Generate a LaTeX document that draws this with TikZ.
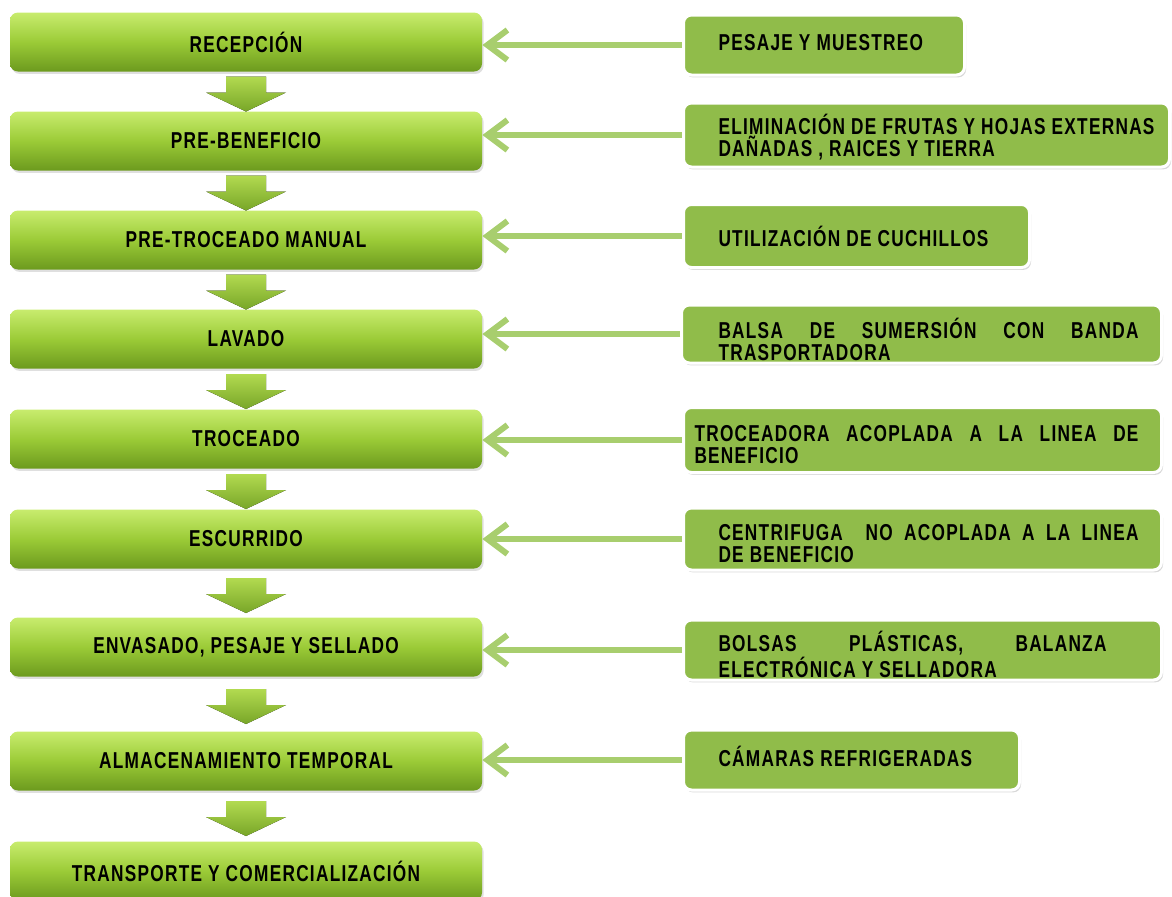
\documentclass[tikz,border=0pt]{standalone}
\usepackage{fontspec}
\newfontfamily\labelfont{Liberation Sans}[FakeStretch=0.75,LetterSpace=5.5]
\usetikzlibrary{arrows.meta, calc, shadows}
\definecolor{stepTop}{HTML}{C8EC6E}
\definecolor{stepMid}{HTML}{9BCB37}
\definecolor{stepBot}{HTML}{6C9A1E}
\definecolor{equipFill}{HTML}{90BC4A}
\definecolor{feedLine}{HTML}{A8CE6E}
\definecolor{arrTop}{HTML}{B2DA50}
\definecolor{arrBot}{HTML}{78A628}
% justified text with its own left and right insets
\newcommand{\equiptext}[5][0pt]{\raisebox{#1}[\height][\depth]{\parbox{#2}{\leftskip=#3\relax\rightskip=#4\relax #5}}}

\begin{document}
\begin{tikzpicture}[x=0.5pt, y=-0.5pt]

\tikzset{stepbox/.style = {rectangle, rounded corners=4pt, minimum width=236pt, minimum height=29.5pt, inner sep=0pt,
  top color=stepTop, bottom color=stepBot, middle color=stepMid,
  drop shadow={shadow xshift=0.8pt, shadow yshift=-1.2pt, opacity=0.25},
  font=\labelfont\bfseries\fontsize{11.5}{11}\selectfont}}
\tikzset{equip/.style = {rectangle, rounded corners=4pt, fill=equipFill, draw=white, line width=1.5pt,
  minimum height=30pt, anchor=west, inner sep=0pt,
  drop shadow={shadow xshift=0.8pt, shadow yshift=-1.2pt, opacity=0.3},
  font=\labelfont\bfseries\fontsize{11.5}{11}\selectfont}}
\tikzset{feed/.style = {draw=feedLine, line width=3pt, -{Straight Barb[length=10pt, width=15pt]}}}
\tikzset{downarr/.style = {top color=arrTop, bottom color=arrBot}}

\useasboundingbox (0,0) rectangle (1172,896);

% process steps
\node[stepbox] (s1) at (246,42)  {RECEPCIÓN};
\node[stepbox] (s2) at (246,141) {PRE-BENEFICIO};
\node[stepbox] (s3) at (246,240) {PRE-TROCEADO MANUAL};
\node[stepbox] (s4) at (246,339) {LAVADO};
\node[stepbox] (s5) at (246,439) {TROCEADO};
\node[stepbox] (s6) at (246,539) {ESCURRIDO};
\node[stepbox] (s7) at (246,647) {ENVASADO, PESAJE Y SELLADO};
\node[stepbox] (s8) at (246,761) {ALMACENAMIENTO TEMPORAL};
\node[stepbox] (s9) at (246,871) {TRANSPORTE Y COMERCIALIZACIÓN};

% equipment
\node[equip] (e1) at (682,45)  {\equiptext[1pt]{140.5pt}{17.5pt}{0pt}{PESAJE Y MUESTREO}};
\node[equip, minimum height=32pt] (e2) at (682,135) {\equiptext[-1pt]{243pt}{17.5pt}{0pt}{ELIMINACIÓN DE FRUTAS Y HOJAS EXTERNAS\newline DAÑADAS , RAICES Y TIERRA}};
\node[equip, minimum height=31.5pt] (e3) at (682,236) {\equiptext{173pt}{17.5pt}{0pt}{UTILIZACIÓN DE CUCHILLOS}};
\node[equip, minimum height=29pt] (e4) at (680,334) {\equiptext[-2.5pt]{240pt}{18.5pt}{11.5pt}{BALSA DE SUMERSIÓN CON BANDA\linebreak TRASPORTADORA}};
\node[equip, minimum height=32.5pt] (e5) at (682,440) {\equiptext[-2.5pt]{239pt}{5.5pt}{11.5pt}{TROCEADORA ACOPLADA A LA LINEA DE\linebreak BENEFICIO}};
\node[equip, minimum height=31pt] (e6) at (682,539) {\equiptext[-2.5pt]{239pt}{17.5pt}{11.5pt}{CENTRIFUGA~ NO ACOPLADA A LA LINEA\linebreak DE BENEFICIO}};
\node[equip] (e7) at (682,650) {\equiptext[-2pt]{239pt}{17.5pt}{27.5pt}{BOLSAS PLÁSTICAS, BALANZA\linebreak ELECTRÓNICA Y SELLADORA}};
\node[equip] (e8) at (682,760) {\equiptext[2pt]{168pt}{17.5pt}{0pt}{CÁMARAS REFRIGERADAS}};

% feeds into the steps
\foreach \i in {1,...,8}
  \draw[feed] (e\i.west) -- (e\i.west -| s\i.east);

% down arrows between steps
\foreach \i [count=\j from 2] in {1,...,8}
  \fill[downarr] ($(s\i.south)!0.5!(s\j.north)$) ++(-20,-15) -- ++(40,0) -- ++(0,16) -- ++(20,0)
    -- ++(-40,19) -- ++(-40,-19) -- ++(20,0) -- cycle;

\end{tikzpicture}
\end{document}
